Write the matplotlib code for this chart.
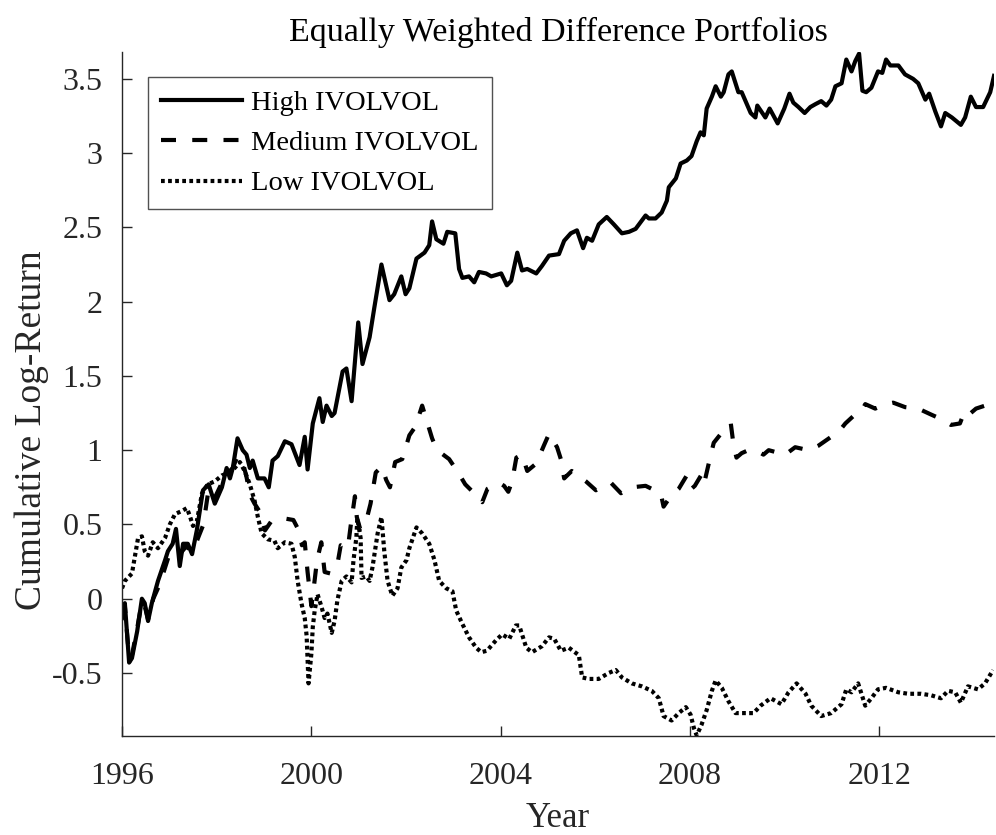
import matplotlib
matplotlib.use('Agg')
import matplotlib.pyplot as plt

plt.rcParams['font.family'] = ['Liberation Serif', 'DejaVu Serif']

# High IVOLVOL: (years since 1996, cumulative log-return)
high_t = [0.00, 0.06, 0.15, 0.21, 0.32, 0.42, 0.48, 0.55, 0.63, 0.76, 0.91, 0.97, 1.07, 1.14,
          1.22, 1.29, 1.39, 1.48, 1.58, 1.71, 1.83, 1.96, 2.11, 2.21, 2.28, 2.34, 2.44, 2.55,
          2.63, 2.70, 2.76, 2.87, 3.01, 3.10, 3.18, 3.29, 3.44, 3.58, 3.75, 3.86, 3.92, 4.03,
          4.17, 4.24, 4.32, 4.43, 4.49, 4.66, 4.74, 4.85, 4.99, 5.08, 5.23, 5.33, 5.48, 5.65,
          5.75, 5.90, 5.99, 6.07, 6.22, 6.39, 6.49, 6.55, 6.64, 6.79, 6.87, 7.04, 7.12, 7.19,
          7.33, 7.44, 7.54, 7.69, 7.80, 8.01, 8.13, 8.22, 8.35, 8.45, 8.56, 8.75, 8.87, 9.02,
          9.23, 9.34, 9.48, 9.61, 9.74, 9.82, 9.93, 10.07, 10.24, 10.39, 10.56, 10.71, 10.85,
          10.92, 11.06, 11.13, 11.27, 11.40, 11.51, 11.55, 11.70, 11.80, 11.93, 12.03, 12.14,
          12.22, 12.29, 12.35, 12.46, 12.54, 12.65, 12.71, 12.81, 12.88, 12.96, 13.02, 13.09,
          13.28, 13.38, 13.42, 13.59, 13.68, 13.85, 13.99, 14.10, 14.18, 14.29, 14.42, 14.54,
          14.65, 14.77, 14.88, 14.98, 15.07, 15.20, 15.30, 15.41, 15.49, 15.57, 15.64, 15.72,
          15.83, 15.97, 16.06, 16.14, 16.23, 16.40, 16.54, 16.71, 16.82, 16.97, 17.05, 17.18,
          17.30, 17.39, 17.53, 17.72, 17.81, 17.93, 18.04, 18.19, 18.34, 18.42]
high_v = [-0.13, -0.03, -0.43, -0.40, -0.22, 0.00, -0.03, -0.15, -0.03, 0.12, 0.26, 0.32, 0.37, 0.47,
          0.22, 0.37, 0.37, 0.30, 0.46, 0.73, 0.77, 0.64, 0.75, 0.88, 0.81, 0.88, 1.08, 1.00,
          0.97, 0.88, 0.93, 0.81, 0.81, 0.75, 0.93, 0.96, 1.06, 1.04, 0.90, 1.09, 0.87, 1.18,
          1.35, 1.19, 1.30, 1.23, 1.25, 1.53, 1.55, 1.33, 1.86, 1.58, 1.76, 1.96, 2.25, 2.01,
          2.05, 2.17, 2.05, 2.09, 2.29, 2.33, 2.38, 2.54, 2.42, 2.39, 2.47, 2.46, 2.22, 2.16,
          2.17, 2.13, 2.20, 2.19, 2.17, 2.19, 2.11, 2.14, 2.33, 2.21, 2.22, 2.19, 2.24, 2.31,
          2.32, 2.41, 2.46, 2.48, 2.36, 2.43, 2.41, 2.52, 2.57, 2.52, 2.46, 2.47, 2.49,
          2.52, 2.58, 2.56, 2.56, 2.60, 2.68, 2.77, 2.83, 2.93, 2.95, 2.98, 3.08,
          3.14, 3.12, 3.30, 3.38, 3.45, 3.38, 3.41, 3.53, 3.55, 3.47, 3.41, 3.41,
          3.27, 3.24, 3.32, 3.24, 3.30, 3.20, 3.30, 3.40, 3.34, 3.31, 3.27, 3.31,
          3.33, 3.35, 3.32, 3.36, 3.45, 3.47, 3.63, 3.55, 3.62, 3.67, 3.42, 3.41,
          3.44, 3.55, 3.54, 3.63, 3.59, 3.59, 3.53, 3.50, 3.47, 3.36, 3.40, 3.28,
          3.18, 3.27, 3.24, 3.19, 3.24, 3.38, 3.31, 3.31, 3.41, 3.52]

# Medium IVOLVOL
med_t = [0.00, 0.06, 0.15, 0.21, 0.32, 0.42, 0.48, 0.55, 0.66, 0.80, 0.92, 1.00, 1.10, 1.22,
         1.35, 1.50, 1.62, 1.72, 1.83, 1.96, 2.11, 2.21, 2.34, 2.44, 2.55, 2.63, 2.70, 2.80,
         2.92, 3.02, 3.15, 3.30, 3.44, 3.62, 3.75, 3.80, 3.86, 3.92, 4.00, 4.06, 4.12, 4.21,
         4.28, 4.40, 4.56, 4.62, 4.77, 4.83, 4.92, 4.96, 5.03, 5.14, 5.25, 5.36, 5.49, 5.58,
         5.66, 5.77, 5.92, 6.07, 6.20, 6.34, 6.55, 6.64, 6.70, 6.91, 7.10, 7.25, 7.44, 7.61,
         7.72, 7.97, 8.07, 8.16, 8.24, 8.33, 8.45, 8.56, 8.75, 8.91, 9.02, 9.19, 9.27, 9.34,
         9.50, 9.80, 10.01, 10.33, 10.54, 10.77, 11.06, 11.38, 11.44, 11.59, 11.76, 11.93,
         12.03, 12.10, 12.25, 12.30, 12.43, 12.50, 12.65, 12.86, 12.92, 12.98, 13.09, 13.23,
         13.38, 13.55, 13.66, 14.01, 14.22, 14.50, 14.71, 14.98, 15.13, 15.28, 15.45, 15.60,
         15.70, 15.91, 16.14, 16.29, 16.54, 16.82, 17.09, 17.30, 17.51, 17.70, 17.81, 17.93,
         18.04, 18.23, 18.42]
med_v = [-0.10, -0.05, -0.40, -0.38, -0.20, -0.02, -0.05, -0.14, 0.00, 0.10, 0.22, 0.30, 0.33, 0.30,
         0.35, 0.32, 0.42, 0.50, 0.74, 0.68, 0.78, 0.84, 0.88, 0.96, 0.92, 0.82, 0.70, 0.64,
         0.58, 0.46, 0.52, 0.53, 0.54, 0.53, 0.45, 0.36, 0.38, 0.18, -0.05, 0.10, 0.26, 0.38,
         0.18, 0.17, 0.25, 0.36, 0.34, 0.49, 0.69, 0.55, 0.47, 0.50, 0.64, 0.85, 0.89, 0.80,
         0.75, 0.92, 0.94, 1.10, 1.16, 1.30, 1.08, 1.01, 0.99, 0.94, 0.85, 0.77, 0.71, 0.65,
         0.74, 0.78, 0.76, 0.72, 0.79, 0.95, 0.97, 0.86, 0.91, 1.03, 1.11, 1.02, 0.94, 0.81,
         0.86, 0.79, 0.73, 0.78, 0.71, 0.75, 0.76, 0.71, 0.62, 0.69, 0.74, 0.83,
         0.74, 0.76, 0.84, 0.78, 0.96, 1.05, 1.11, 1.18, 1.03, 0.95, 0.98, 1.00,
         1.00, 0.97, 1.00, 0.97, 1.02, 1.00, 1.03, 1.09, 1.12, 1.18, 1.23, 1.25,
         1.31, 1.28, 1.31, 1.32, 1.29, 1.28, 1.24, 1.21, 1.17, 1.18, 1.27, 1.25,
         1.28, 1.30, 1.37]

# Low IVOLVOL
low_t = [0.00, 0.06, 0.21, 0.27, 0.34, 0.42, 0.48, 0.55, 0.65, 0.76, 0.91, 1.01, 1.12, 1.26,
         1.37, 1.43, 1.50, 1.58, 1.69, 1.81, 1.96, 2.11, 2.28, 2.38, 2.49, 2.59, 2.70, 2.80,
         2.87, 2.95, 3.08, 3.22, 3.29, 3.44, 3.58, 3.65, 3.71, 3.79, 3.86, 3.90, 3.94, 4.00,
         4.03, 4.07, 4.13, 4.21, 4.28, 4.34, 4.43, 4.49, 4.55, 4.64, 4.74, 4.85, 4.89, 4.95,
         4.97, 5.04, 5.06, 5.16, 5.23, 5.29, 5.40, 5.48, 5.54, 5.61, 5.71, 5.82, 5.90, 6.01,
         6.07, 6.22, 6.34, 6.49, 6.60, 6.70, 6.85, 6.98, 7.06, 7.19, 7.33, 7.48, 7.59, 7.71,
         7.90, 8.03, 8.18, 8.32, 8.39, 8.54, 8.66, 8.87, 9.02, 9.13, 9.27, 9.44, 9.65, 9.72,
         9.86, 10.07, 10.28, 10.43, 10.56, 10.77, 10.98, 11.19, 11.34, 11.44, 11.61, 11.76,
         11.91, 12.01, 12.08, 12.14, 12.24, 12.35, 12.46, 12.54, 12.67, 12.81, 12.96, 13.13,
         13.34, 13.49, 13.70, 13.93, 14.08, 14.25, 14.44, 14.56, 14.77, 14.98, 15.20, 15.30,
         15.41, 15.55, 15.70, 15.83, 15.97, 16.14, 16.40, 16.61, 16.88, 17.09, 17.30, 17.45,
         17.60, 17.72, 17.87, 18.08, 18.23, 18.40]
low_v = [0.07, 0.12, 0.17, 0.28, 0.41, 0.42, 0.32, 0.29, 0.38, 0.34, 0.41, 0.50, 0.57, 0.59,
         0.61, 0.56, 0.49, 0.52, 0.71, 0.77, 0.79, 0.83, 0.85, 0.88, 0.92, 0.86, 0.77, 0.66,
         0.55, 0.44, 0.40, 0.39, 0.34, 0.38, 0.37, 0.28, 0.12, -0.03, -0.13, -0.25, -0.57, -0.37,
         -0.19, -0.08, 0.03, -0.05, -0.13, -0.10, -0.23, -0.15, -0.01, 0.12, 0.15, 0.11, 0.26, 0.41,
         0.54, 0.41, 0.14, 0.15, 0.12, 0.21, 0.44, 0.55, 0.32, 0.12, 0.02, 0.07, 0.21, 0.26,
         0.34, 0.48, 0.44, 0.37, 0.26, 0.12, 0.07, 0.05, -0.08, -0.17, -0.26, -0.33, -0.36, -0.35,
         -0.28, -0.24, -0.27, -0.18, -0.18, -0.33, -0.36, -0.32, -0.26, -0.27, -0.35, -0.33, -0.38, -0.53,
         -0.54, -0.54, -0.50, -0.48, -0.53, -0.57, -0.59, -0.62, -0.67, -0.79, -0.82, -0.77,
         -0.73, -0.78, -0.87, -0.92, -0.85, -0.75, -0.62, -0.55, -0.60, -0.69, -0.77, -0.77,
         -0.77, -0.72, -0.67, -0.71, -0.63, -0.57, -0.64, -0.72, -0.79, -0.77, -0.71, -0.61,
         -0.63, -0.57, -0.72, -0.67, -0.61, -0.60, -0.63, -0.64, -0.64, -0.65, -0.67, -0.62,
         -0.63, -0.70, -0.59, -0.61, -0.57, -0.48]

start_year = 1996
xticks = [1996, 2000, 2004, 2008, 2012]
yticks = [-0.5, 0, 0.5, 1, 1.5, 2, 2.5, 3, 3.5]
ytick_labels = ['-0.5', '0', '0.5', '1', '1.5', '2', '2.5', '3', '3.5']
labels = ['High IVOLVOL', 'Medium IVOLVOL', 'Low IVOLVOL']

axcol = '#262626'
fig = plt.figure(figsize=(9.96, 8.35), dpi=100)
ax = fig.add_axes([0.1225, 0.1186, 0.8755, 0.819])

ax.plot([start_year + t for t in high_t], high_v, color='black', lw=3.0,
        label=labels[0])
ax.plot([start_year + t for t in med_t], med_v, color='black', lw=3.0,
        linestyle=(0, (3.6, 3.9)), dash_capstyle='butt', label=labels[1])
ax.plot([start_year + t for t in low_t], low_v, color='black', lw=3.0,
        linestyle=(0, (0.9, 0.8)), dash_capstyle='butt', label=labels[2])

ax.set_xlim(start_year, start_year + high_t[-1])
ax.set_ylim(-0.924, 3.68)
ax.set_xticks(xticks)
ax.set_xticklabels([str(x) for x in xticks])
ax.set_yticks(yticks)
ax.set_yticklabels(ytick_labels)

for s in ['top', 'right']:
    ax.spines[s].set_visible(False)
for s in ['left', 'bottom']:
    ax.spines[s].set_color(axcol)
    ax.spines[s].set_linewidth(1.0)
ax.tick_params(direction='in', length=7, width=1.0, color=axcol, labelcolor=axcol,
               labelsize=23)
ax.tick_params(axis='x', pad=19)
ax.tick_params(axis='y', pad=14)

ax.set_title('Equally Weighted Difference Portfolios', fontsize=24.5, color='black', pad=8)
ax.set_xlabel('Year', fontsize=25, color=axcol, labelpad=8)
ax.set_ylabel('Cumulative Log-Return', fontsize=27, color=axcol)
ax.yaxis.set_label_coords(-0.084, 0.447)

leg = ax.legend(loc='upper left', bbox_to_anchor=(0.03, 0.963), fontsize=20.5,
                frameon=True, fancybox=False, handlelength=2.85, handletextpad=0.32,
                borderpad=0.45, labelspacing=0.5, borderaxespad=0)
leg.get_frame().set_edgecolor(axcol)
leg.get_frame().set_linewidth(1.0)
for t in leg.get_texts():
    t.set_color('black')

plt.savefig('out.png', dpi=100)
